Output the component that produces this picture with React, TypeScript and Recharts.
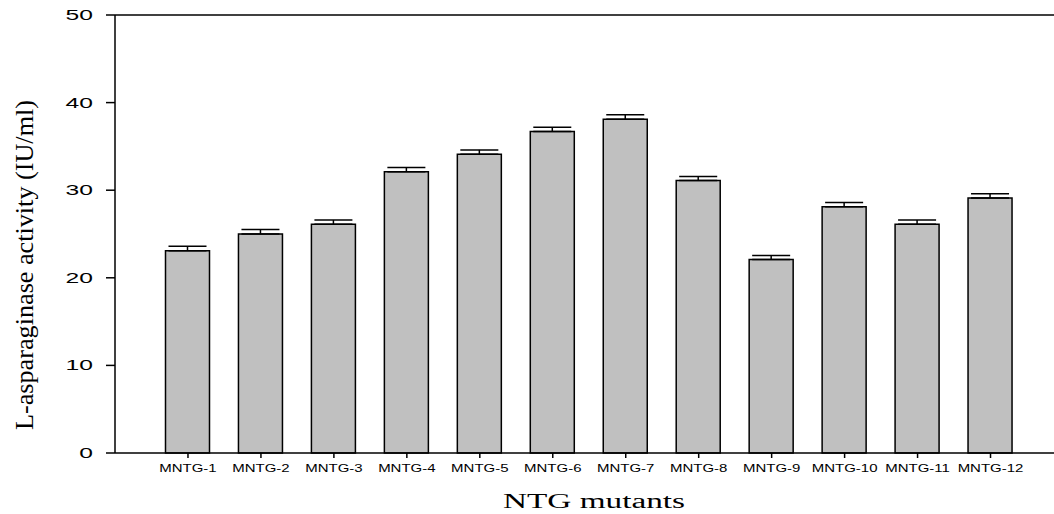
import { BarChart, Bar, XAxis, YAxis, ErrorBar, ReferenceLine, Label } from 'recharts'

const mutants = [
  'MNTG-1', 'MNTG-2', 'MNTG-3', 'MNTG-4', 'MNTG-5', 'MNTG-6',
  'MNTG-7', 'MNTG-8', 'MNTG-9', 'MNTG-10', 'MNTG-11', 'MNTG-12',
]
const activity = [23.1, 25.0, 26.1, 32.1, 34.1, 36.7, 38.1, 31.1, 22.1, 28.1, 26.1, 29.1]
const activityErr = [0.5, 0.5, 0.5, 0.5, 0.5, 0.5, 0.5, 0.45, 0.45, 0.5, 0.5, 0.5]
const yTicks = [0, 10, 20, 30, 40, 50]

const data = mutants.map((name, i) => ({
  name,
  value: activity[i],
  err: [0, activityErr[i]],
}))

// the source figure is stretched sideways, so tick text gets a horizontal scale
function YTick({ x, y, payload }: any) {
  return (
    <text
      transform={`translate(${x - 11},${y + 5}) scale(1.7,1)`}
      textAnchor="end"
      fontFamily="Arial, 'Liberation Sans', sans-serif"
      fontSize={14.5}
      fill="#000"
    >
      {payload.value}
    </text>
  )
}

function XTick({ x, y, payload }: any) {
  return (
    <text
      transform={`translate(${x},${y + 12}) scale(1.5,1)`}
      textAnchor="middle"
      fontFamily="Arial, 'Liberation Sans', sans-serif"
      fontSize={10}
      fill="#000"
    >
      {payload.value}
    </text>
  )
}

export default function App() {
  return (
    <div style={{ position: 'absolute', left: 0, top: 0, background: '#fff' }}>
      <BarChart
        width={1054}
        height={514}
        data={data}
        margin={{ top: 15, right: 0, bottom: 0, left: 0 }}
        barSize={44}
      >
        <XAxis
          dataKey="name"
          height={61}
          padding={{ left: 36.5, right: 27 }}
          tick={<XTick />}
          tickSize={5}
          tickLine={{ stroke: '#000', strokeWidth: 1.5 }}
          axisLine={{ stroke: '#000', strokeWidth: 1.5 }}
          interval={0}
        >
          <Label
            content={() => (
              <text
                x={594}
                y={508}
                textAnchor="middle"
                fontFamily="'Liberation Serif', 'Times New Roman', serif"
                fontSize={20}
                textLength={182}
                lengthAdjust="spacingAndGlyphs"
                fill="#000"
              >
                NTG mutants
              </text>
            )}
          />
        </XAxis>
        <YAxis
          width={115}
          domain={[0, 50]}
          ticks={yTicks}
          tick={<YTick />}
          tickSize={9}
          tickLine={{ stroke: '#000', strokeWidth: 1.5 }}
          axisLine={{ stroke: '#000', strokeWidth: 1.5 }}
        >
          <Label
            content={() => (
              <text
                transform="translate(33,265) rotate(-90)"
                textAnchor="middle"
                fontFamily="'Liberation Serif', 'Times New Roman', serif"
                fontSize={26}
                textLength={330}
                lengthAdjust="spacingAndGlyphs"
                fill="#000"
              >
                L-asparaginase activity (IU/ml)
              </text>
            )}
          />
        </YAxis>
        <ReferenceLine y={50} stroke="#000" strokeWidth={1.5} ifOverflow="visible" />
        <Bar dataKey="value" fill="#c0c0c0" stroke="#000" strokeWidth={1.5} isAnimationActive={false}>
          <ErrorBar dataKey="err" width={19} stroke="#000" strokeWidth={1.5} direction="y" />
        </Bar>
      </BarChart>
    </div>
  )
}
